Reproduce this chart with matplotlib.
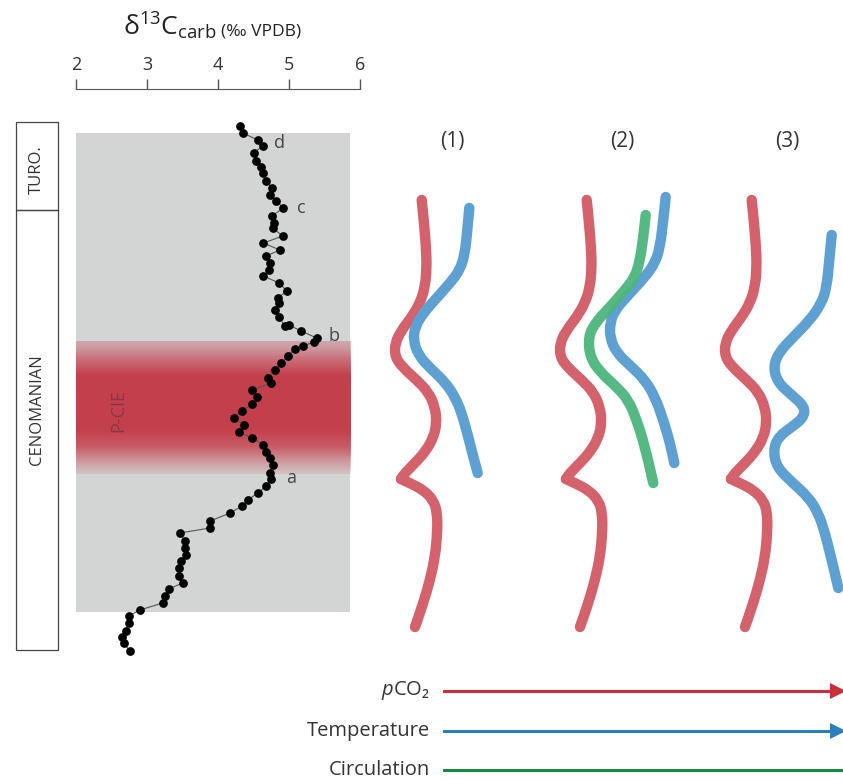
import numpy as np
import matplotlib
matplotlib.use('Agg')
import matplotlib.pyplot as plt
from matplotlib.patches import Rectangle, PathPatch
from matplotlib.path import Path
from matplotlib import transforms

plt.rcParams['font.family'] = ['Open Sans', 'DejaVu Sans']
plt.rcParams['mathtext.fontset'] = 'custom'
plt.rcParams['mathtext.rm'] = 'Open Sans'
plt.rcParams['mathtext.it'] = 'Open Sans:italic'

# d13C carb (permil VPDB) against stratigraphic height (m)
d13c = [4.31, 4.35, 4.56, 4.63, 4.50, 4.54, 4.61, 4.63, 4.68, 4.76,
        4.73, 4.82, 4.92, 4.76, 4.79, 4.77, 4.91, 4.64, 4.87, 4.68,
        4.73, 4.72, 4.64, 4.86, 4.97, 4.84, 4.86, 4.80, 4.86, 4.94,
        5.00, 5.17, 5.39, 5.35, 5.20, 5.08, 4.98, 4.89, 4.80, 4.71,
        4.75, 4.48, 4.55, 4.48, 4.34, 4.22, 4.37, 4.29, 4.48, 4.64,
        4.68, 4.73, 4.78, 4.73, 4.75, 4.68, 4.56, 4.42, 4.34, 4.17,
        3.89, 3.89, 3.46, 3.54, 3.54, 3.55, 3.48, 3.45, 3.45, 3.50,
        3.31, 3.26, 3.22, 2.90, 2.74, 2.74, 2.70, 2.65, 2.67, 2.76]
height = [53.4, 52.7, 52.0, 51.4, 50.7, 49.9, 49.3, 48.7, 47.9, 47.2,
          46.5, 45.9, 45.2, 44.4, 43.7, 43.2, 42.4, 41.7, 41.0, 40.4,
          39.7, 39.0, 38.4, 37.7, 36.9, 36.2, 35.7, 35.0, 34.3, 33.4,
          33.5, 32.9, 32.2, 31.8, 31.4, 31.1, 30.4, 29.7, 29.0, 28.2,
          27.7, 27.0, 26.3, 25.6, 24.9, 24.2, 23.5, 22.8, 22.2, 21.5,
          20.8, 20.2, 19.5, 18.7, 18.1, 17.4, 16.7, 16.0, 15.4, 14.7,
          13.9, 13.2, 12.7, 11.9, 11.2, 10.5, 9.9, 9.2, 8.4, 7.7,
          7.1, 6.4, 5.7, 5.0, 4.4, 3.7, 2.9, 2.3, 1.7, 0.9]

level_names = ['a', 'b', 'c', 'd']
level_x = [5.03, 5.63, 5.18, 4.86]
level_h = [18.2, 32.4, 45.2, 51.7]

stage_names = ['TURO.', 'CENOMANIAN']
stage_bounds = [53.8, 45.0, 1.0]
stage_label_h = [49.0, 25.0]
section_base, section_top = 4.8, 52.7
pcie_base, pcie_top = 18.6, 31.9

# schematic curves (drawing units, panel 1); shifted for the other panels
co2_x = [421.7, 424, 426, 426.7, 425, 420, 411.7, 401.7, 395, 395, 403.3, 416.7,
         428.3, 435, 436.7, 433.3, 425, 415, 405, 401.0, 411.7, 423.3, 433.3,
         437.3, 437.3, 435, 430, 423.3, 415]
co2_y = [200, 223, 247, 267, 287, 303, 317, 330, 343, 357, 368, 380,
         392, 407, 423, 438, 452, 463, 473, 479, 484, 490, 500,
         513, 533, 557, 580, 603, 627]
co2_cusp = 19
panel_shift = [0, 165, 330]
panel_labels = ['(1)', '(2)', '(3)']
panel_label_x = [452, 622, 787]

temp1_x = [469.3, 467.3, 465, 460, 450, 436.7, 423.3, 415, 413.3, 418.3, 430,
           445, 455, 461.7, 468.3, 473.3, 477.7]
temp1_y = [208, 230, 253, 270, 283, 298, 313, 327, 340, 355, 368,
           382, 397, 413, 437, 457, 473]
temp2_x = [665.7, 663.3, 660, 655, 645, 628.3, 615, 610, 610, 616.7, 631.7,
           645, 655, 663.3, 670, 674.3]
temp2_y = [197, 220, 247, 263, 277, 295, 310, 323, 338, 353, 367,
           380, 397, 420, 443, 463]
circ2_x = [645.7, 643.3, 640, 635, 625, 610, 595, 588.3, 590, 600, 616.7,
           628.3, 636.7, 645, 653.3]
circ2_y = [215, 237, 260, 277, 290, 307, 323, 337, 357, 372, 387,
           400, 420, 447, 483]
temp3_x = [831.7, 829.3, 826.7, 821.7, 810, 793.3, 778.3, 773.3, 778.3, 791.7,
           805, 803.3, 791.7, 778.3, 773.3, 776.7, 791.7, 808.3, 818.3, 825,
           831.7, 838.3]
temp3_y = [235, 260, 287, 303, 320, 337, 353, 368, 383, 395,
           407, 418, 427, 437, 450, 467, 482, 497, 513, 533,
           560, 588]

trend_names = ['$p$CO\u2082', 'Temperature', 'Circulation']
trend_y = [691, 731, 770]
trend_colors = ['#c92f3b', '#2d7ec1', '#138a40']

c_red = '#d3626d'
c_blue = '#5fa0d2'
c_green = '#4db57c'


def smooth_stroke(ax, xs, ys, color, alpha=1.0):
    # quadratic B-spline through the control points, drawn as a bezier path
    p = np.column_stack([xs, ys]).astype(float)
    mids = (p[:-1] + p[1:]) / 2
    verts = [p[0], mids[0]]
    codes = [Path.MOVETO, Path.LINETO]
    for k in range(1, len(p) - 1):
        verts += [p[k], mids[k]]
        codes += [Path.CURVE3, Path.CURVE3]
    verts.append(p[-1])
    codes.append(Path.LINETO)
    patch = PathPatch(Path(verts, codes), facecolor='none', edgecolor=color,
                      lw=7.5, capstyle='round', joinstyle='round', alpha=alpha)
    ax.add_patch(patch)


fig = plt.figure(figsize=(8.43, 7.8), dpi=100)

# overlay for the schematic part, drawn in figure pixels
ov = fig.add_axes([0, 0, 1, 1])
ov.set_xlim(0, 843)
ov.set_ylim(780, 0)
ov.axis('off')

ax = fig.add_axes([76 / 843, 120 / 780, 284 / 843, 571 / 780])
ax.patch.set_visible(False)
ax.set_xlim(2, 6)
ax.set_ylim(0, 57.1)

ax.add_patch(Rectangle((2, section_base), 3.86, section_top - section_base,
                       facecolor='#d3d4d4', edgecolor='none', zorder=0))

# P-CIE band with soft edges
n = 200
frac = np.linspace(0, 1, n)
alpha = np.interp(frac, [0, 0.08, 0.2, 0.33, 0.74, 0.86, 0.95, 1.0],
                  [0.12, 0.35, 0.8, 1.0, 1.0, 0.7, 0.4, 0.3])
band = np.zeros((n, 1, 4))
band[..., 0], band[..., 1], band[..., 2] = 0.77, 0.25, 0.30
band[..., 3] = alpha[:, None]
ax.imshow(band, origin='lower', aspect='auto', interpolation='bilinear',
          extent=[1.97, 5.86, pcie_base, pcie_top], zorder=1)
ax.text(2.59, 25.0, 'P-CIE', rotation=90, ha='center',
        va='center', fontsize=13, color='#7a3a42', alpha=0.85, zorder=2)

ax.plot(d13c, height, '-', color='#555555', lw=0.8, zorder=3)
ax.plot(d13c, height, 'o', color='black', ms=6.3, mew=0, zorder=4, clip_on=False)

for name, x, h in zip(level_names, level_x, level_h):
    ax.text(x, h, name, fontsize=13, color='#444444', ha='center', va='center')

ax.xaxis.tick_top()
ax.set_xticks([2, 3, 4, 5, 6])
ax.set_yticks([])
for s in ['left', 'right', 'bottom']:
    ax.spines[s].set_visible(False)
ax.spines['top'].set_color('#555555')
ax.tick_params(axis='x', direction='out', length=7, width=1, color='#555555',
               labelsize=13, labelcolor='#333333', pad=4)

fig.text(217 / 843, 0.955, 'δ$^{\\mathregular{13}}$C$_{\\mathregular{carb}}$',
         fontsize=19, color='#222222', ha='right', va='baseline')
fig.text(221 / 843, 0.955, '(‰ VPDB)', fontsize=12.5, color='#222222',
         ha='left', va='baseline')

# stage column
tr = transforms.blended_transform_factory(fig.transFigure, ax.transData)
x0, x1 = 16 / 843, 58 / 843
for i, name in enumerate(stage_names):
    top, bot = stage_bounds[i], stage_bounds[i + 1]
    ax.add_patch(Rectangle((x0, bot), x1 - x0, top - bot, transform=tr,
                           facecolor='none', edgecolor='#444444', lw=0.9,
                           clip_on=False))
    ax.text((x0 + x1) / 2, stage_label_h[i], name,
            transform=tr, rotation=90, ha='center', va='center',
            fontsize=12, color='#333333')

# schematic panels (pCO2 curve has a sharp turn, drawn as two strokes)
for i, sh in enumerate(panel_shift):
    cx = np.array(co2_x) + sh
    smooth_stroke(ov, cx[:co2_cusp + 1], co2_y[:co2_cusp + 1], c_red)
    smooth_stroke(ov, cx[co2_cusp:], co2_y[co2_cusp:], c_red)
    ov.text(panel_label_x[i], 141, panel_labels[i], fontsize=15,
            color='#333333', ha='center', va='center')
smooth_stroke(ov, temp1_x, temp1_y, c_blue)
smooth_stroke(ov, temp2_x, temp2_y, c_blue)
smooth_stroke(ov, circ2_x, circ2_y, c_green, alpha=0.95)
smooth_stroke(ov, temp3_x, temp3_y, c_blue)

# trend arrows
for name, y, c in zip(trend_names, trend_y, trend_colors):
    ov.text(430, y, name, fontsize=14.5, color='#333333', ha='right',
            va='center')
    ov.plot([444, 848], [y, y], color=c, lw=2.2, clip_on=True)
    if name != 'Circulation':
        ov.plot([838], [y], marker='>', ms=11, color=c, mew=0)

fig.savefig('out.png', dpi=100)
